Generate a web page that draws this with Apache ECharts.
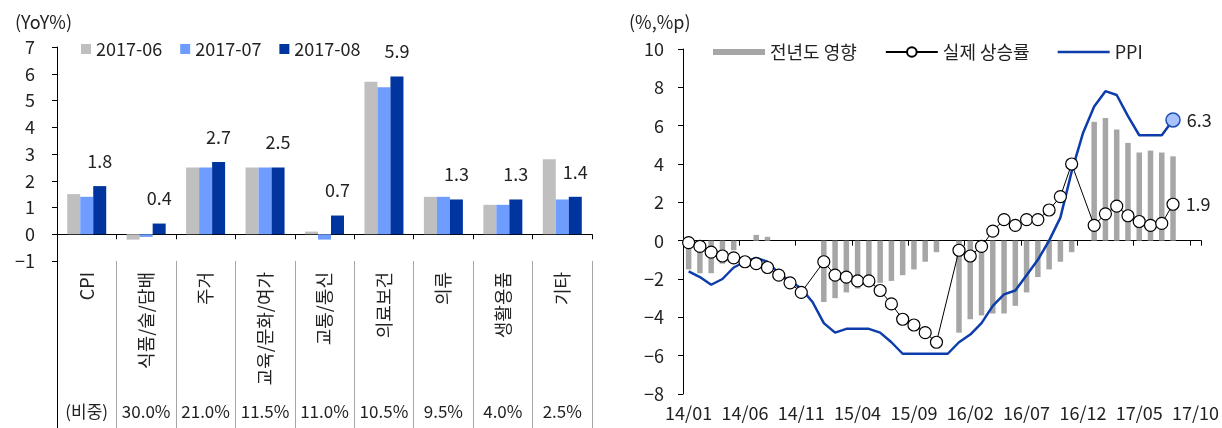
<!DOCTYPE html>
<html>
<head>
<meta charset="utf-8">
<script src="https://cdn.jsdelivr.net/npm/echarts@6/dist/echarts.min.js"></script>
<style>
html,body{margin:0;padding:0;background:#fff;}
#c{width:1222px;height:428px;}
</style>
</head>
<body>
<div id="c"></div>
<script>
// ---- Left chart data ----
const leftCategories = ['CPI', '식품/술/담배', '주거', '교육/문화/여가', '교통/통신', '의료보건', '의류', '생활용품', '기타'];
const weights = ['(비중)', '30.0%', '21.0%', '11.5%', '11.0%', '10.5%', '9.5%', '4.0%', '2.5%'];
const leftSeriesNames = ['2017-06', '2017-07', '2017-08'];
const s201706 = [1.5, -0.2, 2.5, 2.5, 0.1, 5.7, 1.4, 1.1, 2.8];
const s201707 = [1.4, -0.1, 2.5, 2.5, -0.2, 5.5, 1.4, 1.1, 1.3];
const s201708 = [1.8, 0.4, 2.7, 2.5, 0.7, 5.9, 1.3, 1.3, 1.4];

// ---- Right chart data ----
const months = ['14/01','14/02','14/03','14/04','14/05','14/06','14/07','14/08','14/09','14/10','14/11','14/12',
  '15/01','15/02','15/03','15/04','15/05','15/06','15/07','15/08','15/09','15/10','15/11','15/12',
  '16/01','16/02','16/03','16/04','16/05','16/06','16/07','16/08','16/09','16/10','16/11','16/12',
  '17/01','17/02','17/03','17/04','17/05','17/06','17/07','17/08','17/09','17/10'];
const baseEffect = [-1.5, -1.7, -1.7, -1.2, -0.5, 0, 0.3, 0.2, 0, 0, 0, null,
  -3.2, -3.0, -2.7, -2.5, -2.3, -2.2, -2.1, -1.8, -1.5, -1.1, -0.6, null,
  -4.8, -4.1, -3.9, -3.8, -3.8, -3.4, -2.7, -1.9, -1.5, -1.1, -0.6, null,
  6.2, 6.4, 5.8, 5.1, 4.6, 4.7, 4.6, 4.4];
const actualRate = [-0.1, -0.3, -0.6, -0.8, -0.9, -1.1, -1.2, -1.4, -1.8, -2.2, -2.7, null,
  -1.1, -1.8, -1.9, -2.1, -2.1, -2.6, -3.3, -4.1, -4.4, -4.8, -5.3, null,
  -0.5, -0.8, -0.3, 0.5, 1.1, 0.8, 1.1, 1.1, 1.6, 2.3, 4.0, null,
  0.8, 1.4, 1.8, 1.3, 1.0, 0.8, 0.9, 1.9];
const ppi = [-1.6, -1.9, -2.3, -2.0, -1.4, -1.1, -0.9, -1.1, -1.7, -2.1, -2.5, -3.2,
  -4.3, -4.8, -4.6, -4.6, -4.6, -4.8, -5.3, -5.9, -5.9, -5.9, -5.9, -5.9,
  -5.3, -4.9, -4.3, -3.4, -2.8, -2.6, -1.8, -1.0, 0.0, 1.2, 3.6, 5.6,
  7.0, 7.8, 7.6, 6.5, 5.5, 5.5, 5.5, 6.3];

const FONT = '"Liberation Sans Narrow", "Noto Sans CJK KR", sans-serif';
const KFONT = '"Noto Sans CJK KR", "Liberation Sans Narrow", sans-serif';
const minus = v => String(v).replace('-', '\u2212');

const lastIdx = (arr) => { for (let i = arr.length - 1; i >= 0; i--) if (arr[i] !== null) return i; return -1; };
const ppiData = ppi.map((v, i) => i === lastIdx(ppi) ? {
  value: v, symbol: 'circle', symbolSize: 14,
  itemStyle: { color: '#A9C3FF', borderColor: '#1F4FB0', borderWidth: 1.5 },
  label: { show: true, position: 'right', distance: 6, formatter: p => p.value.toFixed(1), fontSize: 18, fontFamily: FONT, color: '#222' }
} : v);
const actualData = actualRate.map((v, i) => i === lastIdx(actualRate) ? {
  value: v,
  label: { show: true, position: 'right', distance: 6, formatter: p => p.value.toFixed(1), fontSize: 18, fontFamily: FONT, color: '#222' }
} : v);

const chart = echarts.init(document.getElementById('c'), null, { renderer: 'canvas' });

const option = {
  animation: false,
  backgroundColor: '#fff',
  textStyle: { fontFamily: FONT, color: '#222' },
  title: [
    { text: '(YoY%)', left: 10, top: 8, textStyle: { fontSize: 18, fontWeight: 'normal', fontFamily: FONT, color: '#222' } },
    { text: '(%,%p)', left: 624, top: 8, textStyle: { fontSize: 18, fontWeight: 'normal', fontFamily: FONT, color: '#222' } }
  ],
  legend: [
    {
      data: leftSeriesNames, left: 76, top: 35, icon: 'rect', itemWidth: 10, itemHeight: 10, itemGap: 18,
      textStyle: { fontSize: 18, fontFamily: FONT, color: '#222' }
    },
    {
      data: [
        { name: '전년도 영향', icon: 'path://M0,0 H52 V6 H0 Z' },
        { name: '실제 상승률' },
        { name: 'PPI', icon: 'path://M0,0 H52 V2.6 H0 Z' }
      ],
      left: 708, top: 38, itemWidth: 52, itemHeight: 12, itemGap: 28,
      textStyle: { fontSize: 18, fontFamily: KFONT, color: '#222' }
    }
  ],
  grid: [
    { left: 57, top: 47, width: 535, height: 214 },
    { left: 57, top: 261, width: 535, height: 167 },
    { left: 683, top: 49, width: 524, height: 345 }
  ],
  xAxis: [
    {
      gridIndex: 0, type: 'category', data: leftCategories, position: 'bottom',
      axisLine: { show: false, onZero: false }, axisTick: { show: false },
      axisLabel: { rotate: 90, margin: 11, fontSize: 18, fontFamily: FONT, color: '#222', interval: 0 }
    },
    {
      gridIndex: 0, type: 'category', data: leftCategories, position: 'bottom',
      axisLine: { show: true, onZero: true, lineStyle: { color: '#000', width: 1 } },
      axisTick: { show: true, interval: 0, length: 5, lineStyle: { color: '#000' } },
      axisLabel: { show: false }
    },
    {
      gridIndex: 1, type: 'category', data: weights, position: 'bottom',
      axisLine: { show: false }, axisTick: { show: false },
      axisLabel: { inside: true, margin: 8, fontSize: 17, fontFamily: FONT, color: '#222', interval: 0 },
      splitLine: { show: true, interval: 0, lineStyle: { color: '#A6A6A6', width: 1 } }
    },
    {
      gridIndex: 2, type: 'category', data: months, position: 'bottom',
      axisLine: { show: false, onZero: false }, axisTick: { show: false },
      axisLabel: { interval: 4, margin: 10, fontSize: 18, fontFamily: FONT, color: '#222' }
    },
    {
      gridIndex: 2, type: 'category', data: months, position: 'bottom',
      axisLine: { show: true, onZero: true, lineStyle: { color: '#000', width: 1 } },
      axisTick: { show: true, interval: 4, length: 5, lineStyle: { color: '#000' } },
      axisLabel: { show: false }
    }
  ],
  yAxis: [
    {
      gridIndex: 0, type: 'value', min: -1, max: 7, interval: 1,
      axisLine: { show: true, lineStyle: { color: '#000' } },
      axisTick: { show: true, length: 5, lineStyle: { color: '#000' } },
      axisLabel: { margin: 22, fontSize: 18, fontFamily: FONT, color: '#222', formatter: minus },
      splitLine: { show: false }
    },
    {
      gridIndex: 1, type: 'value', min: 0, max: 1,
      axisLine: { show: true, lineStyle: { color: '#000' } },
      axisTick: { show: false }, axisLabel: { show: false }, splitLine: { show: false }
    },
    {
      gridIndex: 2, type: 'value', min: -8, max: 10, interval: 2,
      axisLine: { show: true, lineStyle: { color: '#000' } },
      axisTick: { show: true, length: 5, lineStyle: { color: '#000' } },
      axisLabel: { margin: 19, fontSize: 18, fontFamily: FONT, color: '#222', formatter: minus },
      splitLine: { show: false }
    }
  ],
  series: [
    { name: leftSeriesNames[0], type: 'bar', xAxisIndex: 0, yAxisIndex: 0, data: s201706, barWidth: 13, barGap: '0%', itemStyle: { color: '#BFBFBF' } },
    { name: leftSeriesNames[1], type: 'bar', xAxisIndex: 0, yAxisIndex: 0, data: s201707, barWidth: 13, barGap: '0%', itemStyle: { color: '#6E9DFF' } },
    {
      name: leftSeriesNames[2], type: 'bar', xAxisIndex: 0, yAxisIndex: 0, data: s201708, barWidth: 13, barGap: '0%', itemStyle: { color: '#00359F' },
      label: { show: true, position: 'top', distance: 16, fontSize: 18, fontFamily: FONT, color: '#222', formatter: p => p.value.toFixed(1) }
    },
    {
      name: '전년도 영향', type: 'bar', xAxisIndex: 3, yAxisIndex: 2, data: baseEffect, barWidth: 5.5,
      itemStyle: { color: '#A6A6A6' }
    },
    {
      name: '실제 상승률', type: 'line', xAxisIndex: 3, yAxisIndex: 2, data: actualData, connectNulls: true,
      symbol: 'circle', symbolSize: 12, showAllSymbol: true,
      lineStyle: { color: '#000', width: 1 },
      itemStyle: { color: '#fff', borderColor: '#000', borderWidth: 1.2 }, z: 4
    },
    {
      name: 'PPI', type: 'line', xAxisIndex: 3, yAxisIndex: 2, data: ppiData, symbol: 'none',
      lineStyle: { color: '#0D3DAA', width: 2.5 }, itemStyle: { color: '#0D3DAA' }, z: 3
    }
  ]
};
chart.setOption(option);
</script>
</body>
</html>
